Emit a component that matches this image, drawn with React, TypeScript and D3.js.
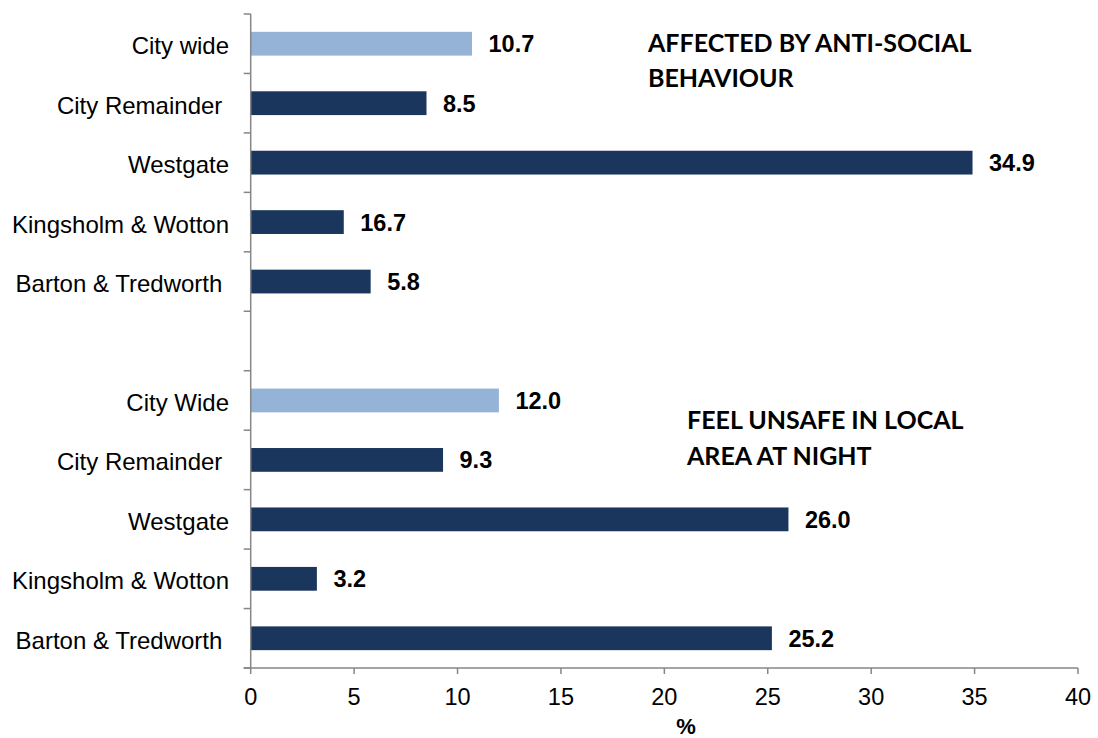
import React from "react";
import * as d3 from "d3";

const groupA = ["City wide", "City Remainder ", "Westgate", "Kingsholm & Wotton", "Barton & Tredworth "];
// bar lengths as drawn in the reference
const valuesA = [10.7, 8.5, 34.9, 4.5, 5.8];
// data labels as printed in the reference
const labelsA = ["10.7", "8.5", "34.9", "16.7", "5.8"];
const groupB = ["City Wide", "City Remainder ", "Westgate", "Kingsholm & Wotton", "Barton & Tredworth "];
const valuesB = [12.0, 9.3, 26.0, 3.2, 25.2];
const labelsB = ["12.0", "9.3", "26.0", "3.2", "25.2"];
const highlightA = [true, false, false, false, false];
const highlightB = [true, false, false, false, false];
const titleA = ["AFFECTED BY ANTI-SOCIAL", "BEHAVIOUR"];
const titleB = ["FEEL UNSAFE IN LOCAL", "AREA AT NIGHT"];
const xTicks = [0, 5, 10, 15, 20, 25, 30, 35, 40];
const xLabel = "%";

const W = 1098;
const H = 738;
const DARK = "#1a365d";
const LIGHT = "#95b3d7";
const AXIS = "#868686";
const SANS = "'Liberation Sans', Arial, sans-serif";
const TITLE_FONT = "Lato, 'Open Sans', sans-serif";

type Row = { key: string; label: string; value: number; text: string; light: boolean };

const rows: Row[] = [
  ...groupA.map((l, i) => ({ key: "A" + i, label: l, value: valuesA[i], text: labelsA[i], light: highlightA[i] })),
  { key: "gap", label: "", value: NaN, text: "", light: false },
  ...groupB.map((l, i) => ({ key: "B" + i, label: l, value: valuesB[i], text: labelsB[i], light: highlightB[i] })),
];

export default function App() {
  const x = d3.scaleLinear().domain([0, 40]).range([250.7, 1078]);
  const y = d3
    .scaleBand<string>()
    .domain(rows.map((r) => r.key))
    .range([14, 668])
    .paddingInner(0.6)
    .paddingOuter(0.3);
  const step = y.step();
  const y0 = 14;
  const boundaries = d3.range(rows.length + 1).map((i) => y0 + i * step);
  const axisX = x(0);
  const axisY = 668;
  const bars = rows.filter((r) => !isNaN(r.value));

  return (
    <svg
      width={W}
      height={H}
      style={{ position: "absolute", left: 0, top: 0, background: "#fff" }}
    >
      <rect x={0} y={0} width={W} height={H} fill="#fff" />
      {bars.map((r) => (
        <rect
          key={r.key}
          x={axisX}
          y={y(r.key)!}
          width={x(r.value) - axisX}
          height={y.bandwidth()}
          fill={r.light ? LIGHT : DARK}
        />
      ))}
      {bars.map((r) => (
        <text
          key={"v" + r.key}
          x={x(r.value) + 16.5}
          y={y(r.key)! + y.bandwidth() / 2 + 8.5}
          fontFamily={SANS}
          fontWeight="bold"
          fontSize={23.5}
          fill="#000"
        >
          {r.text}
        </text>
      ))}
      {rows
        .filter((r) => r.label)
        .map((r) => (
          <text
            key={"c" + r.key}
            x={229}
            y={y(r.key)! + y.bandwidth() / 2 + 10.5}
            textAnchor="end"
            fontFamily={SANS}
            fontSize={24}
            fill="#000"
            style={{ whiteSpace: "pre" }}
            xmlSpace="preserve"
          >
            {r.label}
          </text>
        ))}
      <line x1={axisX} x2={axisX} y1={y0} y2={axisY} stroke={AXIS} strokeWidth={1.5} />
      {boundaries.map((b, i) => (
        <line key={"yt" + i} x1={axisX - 7} x2={axisX} y1={b} y2={b} stroke={AXIS} strokeWidth={1.5} />
      ))}
      <line x1={axisX - 7} x2={x(40)} y1={axisY} y2={axisY} stroke={AXIS} strokeWidth={1.5} />
      {xTicks.map((t) => (
        <g key={"xt" + t}>
          <line x1={x(t)} x2={x(t)} y1={axisY} y2={axisY + 6} stroke={AXIS} strokeWidth={1.5} />
          <text
            x={x(t)}
            y={705}
            textAnchor="middle"
            fontFamily={SANS}
            fontSize={23.5}
            fill="#000"
          >
            {t}
          </text>
        </g>
      ))}
      <text x={686} y={734} textAnchor="middle" fontFamily={SANS} fontWeight="bold" fontSize={22} fill="#000">
        {xLabel}
      </text>
      {titleA.map((t, i) => (
        <text
          key={"ta" + i}
          x={648}
          y={51.7 + i * 35.6}
          fontFamily={TITLE_FONT}
          fontWeight="bold"
          fontSize={25}
          fill="#000"
        >
          {t}
        </text>
      ))}
      {titleB.map((t, i) => (
        <text
          key={"tb" + i}
          x={687}
          y={429.3 + i * 35.6}
          fontFamily={TITLE_FONT}
          fontWeight="bold"
          fontSize={25}
          fill="#000"
        >
          {t}
        </text>
      ))}
    </svg>
  );
}
